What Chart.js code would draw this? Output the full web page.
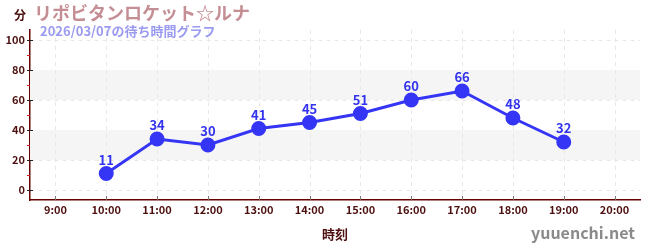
<!DOCTYPE html>
<html>
<head>
<meta charset="utf-8">
<script src="https://cdn.jsdelivr.net/npm/chart.js@4"></script>
<style>
  html, body { margin: 0; padding: 0; background: #fff; }
  #wrap { width: 650px; height: 250px; }
</style>
</head>
<body>
<div id="wrap"><canvas id="waitChart"></canvas></div>
<script>
// hours shown on the x axis, and the wait (minutes) at each one
const hourLabels = ['9:00', '10:00', '11:00', '12:00', '13:00', '14:00', '15:00', '16:00', '17:00', '18:00', '19:00', '20:00'];
const waitMinutes = [null, 11, 34, 30, 41, 45, 51, 60, 66, 48, 32, null];
const yTicks = [0, 20, 40, 60, 80, 100];
const yMinorTicks = [10, 30, 50, 70, 90];
const bands = [[20, 40], [60, 80]];

const FONT = "'Noto Sans CJK JP', 'Noto Sans', sans-serif";
const DARK = '#4d1010';
const GRID = '#e8e8e8';

// grey bands, vertical grid, custom tick marks, value labels and header texts
const decorations = {
  id: 'decorations',
  beforeDatasetsDraw(chart) {
    const { ctx, chartArea: a, scales: { x, y } } = chart;
    ctx.save();
    ctx.fillStyle = '#f5f5f5';
    bands.forEach(([lo, hi]) => {
      const top = y.getPixelForValue(hi), bot = y.getPixelForValue(lo);
      ctx.fillRect(a.left, top, a.right - a.left, bot - top);
    });
    // vertical dashed grid at each hour
    ctx.strokeStyle = GRID;
    ctx.lineWidth = 1;
    ctx.setLineDash([4, 4]);
    hourLabels.forEach((_, i) => {
      const px = Math.round(x.getPixelForValue(i)) + 0.5;
      ctx.beginPath(); ctx.moveTo(px, a.top); ctx.lineTo(px, a.bottom); ctx.stroke();
    });
    ctx.restore();
  },
  afterDraw(chart) {
    const { ctx, chartArea: a, scales: { x, y } } = chart;
    ctx.save();
    // y major ticks
    ctx.strokeStyle = '#222';
    ctx.lineWidth = 1;
    yTicks.forEach(v => {
      const py = Math.round(y.getPixelForValue(v)) + 0.5;
      ctx.beginPath(); ctx.moveTo(a.left - 3, py); ctx.lineTo(a.left + 3, py); ctx.stroke();
    });
    // y minor ticks
    ctx.strokeStyle = '#dd2222';
    yMinorTicks.forEach(v => {
      const py = Math.round(y.getPixelForValue(v)) + 0.5;
      ctx.beginPath(); ctx.moveTo(a.left - 3, py); ctx.lineTo(a.left, py); ctx.stroke();
    });
    // x ticks, inside the plot
    ctx.strokeStyle = '#777';
    hourLabels.forEach((_, i) => {
      const px = Math.round(x.getPixelForValue(i)) + 0.5;
      ctx.beginPath(); ctx.moveTo(px, a.bottom - 4); ctx.lineTo(px, a.bottom); ctx.stroke();
    });

    // value labels above points
    const meta = chart.getDatasetMeta(0);
    ctx.fillStyle = '#3333ee';
    ctx.font = 'bold 13px ' + FONT;
    ctx.textAlign = 'center';
    ctx.textBaseline = 'alphabetic';
    meta.data.forEach((pt, i) => {
      const v = waitMinutes[i];
      if (v === null) return;
      ctx.fillText(String(v), pt.x, pt.y - 9);
    });

    // header
    ctx.textAlign = 'left';
    ctx.textBaseline = 'middle';
    ctx.fillStyle = DARK;
    ctx.font = 'bold 12px ' + FONT;
    ctx.fillText('分', 14, 15);
    ctx.fillStyle = '#c48e94';
    ctx.font = 'bold 18px ' + FONT;
    ctx.fillText('リポビタンロケット☆ルナ', 34, 13);
    ctx.fillStyle = '#9a9af0';
    ctx.font = 'bold 13px ' + FONT;
    ctx.fillText('2026/03/07の待ち時間グラフ', 40, 31);

    // watermark
    ctx.textAlign = 'right';
    ctx.fillStyle = '#8a8a8a';
    ctx.font = 'bold 16px ' + FONT;
    ctx.fillText('yuuenchi.net', 635, 233);
    ctx.restore();
  }
};

new Chart(document.getElementById('waitChart').getContext('2d'), {
  type: 'line',
  data: {
    labels: hourLabels,
    datasets: [{
      data: waitMinutes,
      borderColor: '#3535f5',
      backgroundColor: '#3535f5',
      borderWidth: 3,
      pointRadius: 6,
      pointHoverRadius: 6,
      tension: 0,
      spanGaps: false
    }]
  },
  options: {
    responsive: true,
    maintainAspectRatio: false,
    animation: false,
    layout: { padding: { top: 30, right: 10, left: 0, bottom: 0 } },
    plugins: {
      legend: { display: false },
      tooltip: { enabled: false }
    },
    scales: {
      x: {
        type: 'category',
        offset: true,
        grid: { display: true, drawOnChartArea: false, drawTicks: false },
        border: { display: true, color: '#660000', width: 1.5 },
        ticks: { color: DARK, font: { family: FONT, size: 11, weight: 'bold' }, padding: 3, maxRotation: 0, autoSkip: false },
        title: { display: true, text: '時刻', color: DARK, font: { family: FONT, size: 13, weight: 'bold' }, padding: { top: 4, bottom: 8 } },
        afterFit(axis) { axis.height = 50; }
      },
      y: {
        min: -20 / 3,
        max: 320 / 3,
        afterBuildTicks(axis) { axis.ticks = yTicks.map(v => ({ value: v })); },
        grid: { color: GRID, drawTicks: false },
        border: { display: true, color: '#660000', width: 1.5, dash: [4, 4] },
        ticks: { color: DARK, font: { family: FONT, size: 11, weight: 'bold' }, padding: 5 },
        afterFit(axis) { axis.width = 30; }
      }
    }
  },
  plugins: [decorations]
});
</script>
</body>
</html>
